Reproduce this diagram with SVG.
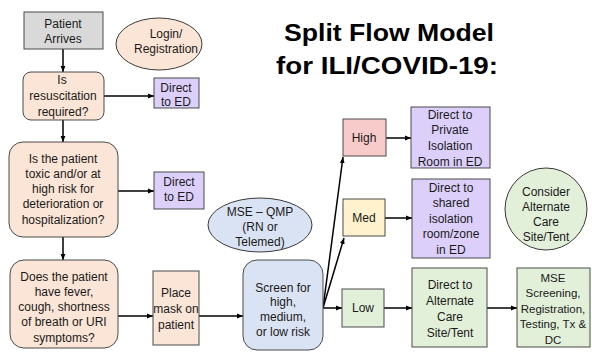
<svg xmlns="http://www.w3.org/2000/svg" width="592" height="352" viewBox="0 0 592 352">
  <defs>
    <marker id="arrow" viewBox="0 0 10 10" refX="10" refY="5" markerWidth="4" markerHeight="4" orient="auto" markerUnits="strokeWidth">
      <path d="M0,1 L10,5 L0,9 z" fill="#000"/>
    </marker>
    <style>
      .box { stroke: #4a4a4a; stroke-width: 1; }
      .gray { fill: #d9d9d9; }
      .peach { fill: #fbe5d6; }
      .purple { fill: #dcd0fb; }
      .blue { fill: #dae3f3; }
      .yellow { fill: #fff2cc; }
      .green { fill: #e2f0d9; }
      .pink { fill: #f8cbcb; }
      .oval { stroke: #3a3a3a; stroke-width: 1; }
      text { font-family: "Liberation Sans", Arial, sans-serif; font-size: 12px; fill: #1a1a1a; text-anchor: middle; }
      .small { font-size: 11.5px; }
      .title { font-size: 24px; font-weight: bold; fill: #000; }
      .link { stroke: #000; stroke-width: 1.5; fill: none; marker-end: url(#arrow); }
    </style>
  </defs>

  <rect width="592" height="352" fill="#fff"/>

  <!-- title -->
  <text class="title" x="389" y="41" textLength="210" lengthAdjust="spacingAndGlyphs">Split Flow Model</text>
  <text class="title" x="387" y="74" textLength="222" lengthAdjust="spacingAndGlyphs">for ILI/COVID-19:</text>

  <!-- connectors -->
  <g id="connectors">
    <line class="link" x1="63" y1="49" x2="63" y2="72"/>
    <line class="link" x1="104" y1="96" x2="154" y2="96"/>
    <line class="link" x1="63" y1="120" x2="63" y2="142"/>
    <line class="link" x1="118" y1="191" x2="154" y2="191"/>
    <line class="link" x1="63" y1="237" x2="63" y2="260"/>
    <line class="link" x1="118" y1="316" x2="153" y2="316"/>
    <line class="link" x1="199" y1="316" x2="243" y2="316"/>
    <line class="link" x1="323" y1="308" x2="342" y2="308"/>
    <line class="link" x1="323" y1="308" x2="344" y2="238"/>
    <line class="link" x1="323" y1="308" x2="343" y2="157"/>
    <line class="link" x1="386" y1="138" x2="411" y2="138"/>
    <line class="link" x1="385" y1="218" x2="412" y2="218"/>
    <line class="link" x1="384" y1="308" x2="412" y2="308"/>
    <line class="link" x1="487" y1="308" x2="517" y2="308"/>
  </g>

  <g id="patient-arrives">
    <rect class="box gray" x="24" y="12" width="79" height="37"/>
    <text x="63" y="28">Patient</text>
    <text x="63" y="43">Arrives</text>
  </g>

  <g id="login-registration">
    <ellipse class="oval peach" cx="159" cy="44" rx="43" ry="26"/>
    <text x="166" y="38">Login/</text>
    <text x="166" y="53">Registration</text>
  </g>

  <g id="resuscitation">
    <rect class="box peach" x="23" y="72" width="81" height="48" rx="8"/>
    <text x="62" y="84">Is</text>
    <text x="63" y="100">resuscitation</text>
    <text x="63" y="116">required?</text>
  </g>

  <g id="direct-ed-1">
    <rect class="box purple" x="154" y="78" width="45" height="30"/>
    <text x="176" y="92">Direct</text>
    <text x="176" y="106">to ED</text>
  </g>

  <g id="toxic-risk">
    <rect class="box peach" x="9" y="142" width="109" height="95" rx="14"/>
    <text x="63" y="163">Is the patient</text>
    <text x="63" y="178">toxic and/or at</text>
    <text x="63" y="193">high risk for</text>
    <text x="63" y="208">deterioration or</text>
    <text x="63" y="224">hospitalization?</text>
  </g>

  <g id="direct-ed-2">
    <rect class="box purple" x="154" y="172" width="50" height="37"/>
    <text x="179" y="186">Direct</text>
    <text x="179" y="201">to ED</text>
  </g>

  <g id="symptoms">
    <rect class="box peach" x="10" y="260" width="108" height="88" rx="14"/>
    <text x="64" y="281">Does the patient</text>
    <text x="64" y="296">have fever,</text>
    <text x="64" y="311">cough, shortness</text>
    <text x="64" y="326">of breath or URI</text>
    <text x="64" y="342">symptoms?</text>
  </g>

  <g id="place-mask">
    <rect class="box peach" x="153" y="271" width="46" height="74"/>
    <text x="176" y="297">Place</text>
    <text x="176" y="313">mask on</text>
    <text x="176" y="329">patient</text>
  </g>

  <g id="mse-qmp">
    <ellipse class="oval blue" cx="260" cy="225" rx="52" ry="27"/>
    <text x="260" y="216">MSE – QMP</text>
    <text x="260" y="231">(RN or</text>
    <text x="260" y="246">Telemed)</text>
  </g>

  <g id="screen">
    <rect class="box blue" x="243" y="260" width="80" height="90" rx="14"/>
    <text x="283" y="292">Screen for</text>
    <text x="283" y="306">high,</text>
    <text x="283" y="321">medium,</text>
    <text x="283" y="336">or low risk</text>
  </g>

  <g id="high">
    <rect class="box pink" x="343" y="119" width="43" height="37"/>
    <text x="364" y="142">High</text>
  </g>

  <g id="med">
    <rect class="box yellow" x="343" y="199" width="42" height="37"/>
    <text x="364" y="222">Med</text>
  </g>

  <g id="low">
    <rect class="box green" x="342" y="289" width="42" height="38"/>
    <text x="363" y="312">Low</text>
  </g>

  <g id="private-isolation">
    <rect class="box purple" x="411" y="107" width="79" height="61"/>
    <text x="450" y="119">Direct to</text>
    <text x="450" y="134">Private</text>
    <text x="450" y="150">Isolation</text>
    <text x="450" y="166">Room in ED</text>
  </g>

  <g id="shared-isolation">
    <rect class="box purple" x="412" y="179" width="78" height="79"/>
    <text x="451" y="192">Direct to</text>
    <text x="451" y="207">shared</text>
    <text x="451" y="223">isolation</text>
    <text x="451" y="238">room/zone</text>
    <text x="451" y="254">in ED</text>
  </g>

  <g id="consider-alternate">
    <circle class="oval green" cx="546" cy="209" r="41"/>
    <text x="546" y="196">Consider</text>
    <text x="546" y="211">Alternate</text>
    <text x="546" y="226">Care</text>
    <text x="546" y="241">Site/Tent</text>
  </g>

  <g id="alternate-care">
    <rect class="box green" x="412" y="268" width="75" height="79"/>
    <text x="450" y="289">Direct to</text>
    <text x="450" y="305">Alternate</text>
    <text x="450" y="321">Care</text>
    <text x="450" y="337">Site/Tent</text>
  </g>

  <g id="mse-screening">
    <rect class="box green" x="517" y="268" width="73" height="79"/>
    <text class="small" x="553" y="282">MSE</text>
    <text class="small" x="553" y="297">Screening,</text>
    <text class="small" x="553" y="313">Registration,</text>
    <text class="small" x="553" y="328">Testing, Tx &amp;</text>
    <text class="small" x="553" y="344">DC</text>
  </g>
</svg>
